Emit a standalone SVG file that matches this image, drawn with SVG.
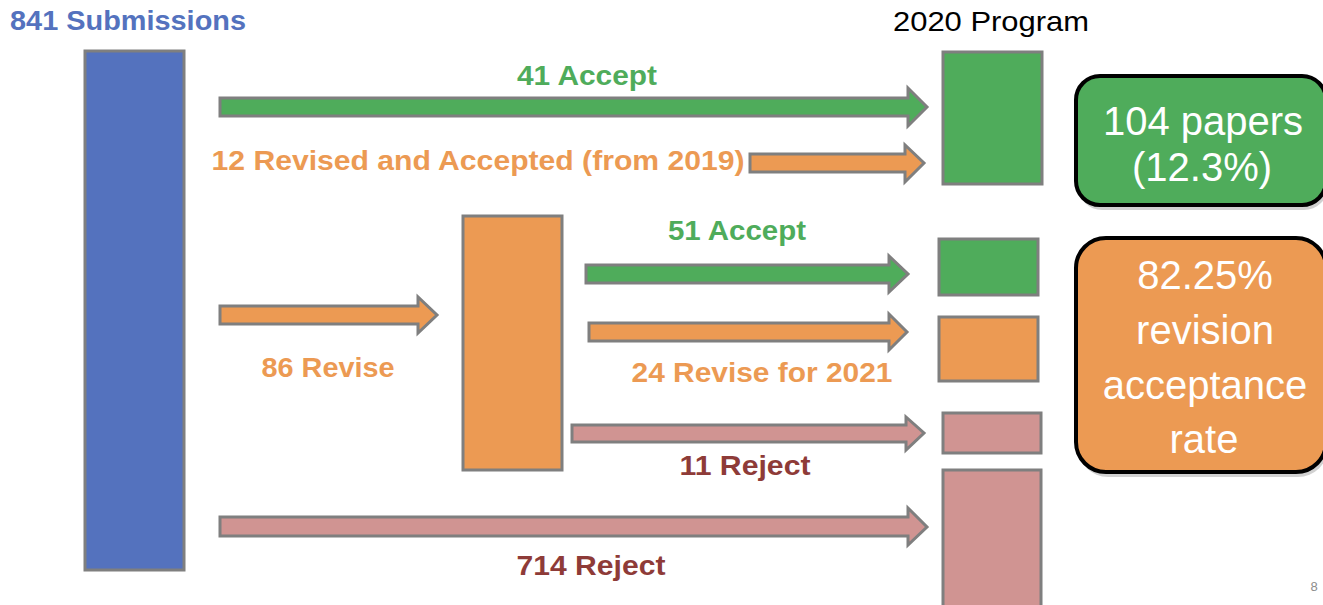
<svg xmlns="http://www.w3.org/2000/svg" width="1323" height="605" viewBox="0 0 1323 605">
<style>
.box{stroke:#7f7f7f;stroke-width:3}
.arr{stroke:#7f7f7f;stroke-width:3;stroke-linejoin:miter}
.blue{fill:#5472be}
.green{fill:#4fac5b}
.orange{fill:#ec9a53}
.pink{fill:#d09492}
.lbl{font-family:"Liberation Sans",Arial,sans-serif;font-weight:bold;font-size:28px;text-anchor:middle}
.tg{fill:#4fac5b}
.to{fill:#ec9a53}
.tr{fill:#8e3b38}
.tb{fill:#5472be}
.big{font-family:"Liberation Sans",Arial,sans-serif;font-size:40px;fill:#ffffff;text-anchor:middle}
.rbox{stroke:#000000;stroke-width:4}
.shadow{fill:#000000;opacity:0.18}
</style>
<rect width="1323" height="605" fill="#ffffff"/>
<g id="titles">
<text class="lbl tb" x="128" y="30" font-size="29" textLength="236" lengthAdjust="spacingAndGlyphs">841 Submissions</text>
<text x="991" y="31" font-family="Liberation Sans,Arial,sans-serif" font-size="28" fill="#000000" text-anchor="middle" textLength="196" lengthAdjust="spacingAndGlyphs">2020 Program</text>
</g>
<g id="submissions"><rect class="box blue" x="85" y="51" width="99" height="519"/></g>
<g id="revise-pool"><rect class="box orange" x="463" y="216" width="99" height="254"/></g>
<g id="program-accept"><rect class="box green" x="943" y="52" width="99" height="132"/></g>
<g id="program-revaccept"><rect class="box green" x="939" y="239" width="99" height="56"/></g>
<g id="program-revise2021"><rect class="box orange" x="939" y="317" width="99" height="64"/></g>
<g id="program-reject11"><rect class="box pink" x="943" y="413" width="98" height="40"/></g>
<g id="program-reject714"><rect class="box pink" x="943" y="470" width="98" height="140"/></g>
<g id="summary-papers">
<rect class="shadow" x="1078" y="80" width="250" height="130" rx="24"/>
<rect class="rbox green" x="1076" y="76" width="250" height="129" rx="24"/>
<text class="big" x="1203" y="135">104 papers</text>
<text class="big" x="1202" y="181">(12.3%)</text>
</g>
<g id="summary-rate">
<rect class="shadow" x="1078" y="242" width="250" height="235" rx="30"/>
<rect class="rbox orange" x="1076" y="238" width="250" height="234" rx="30"/>
<text class="big" x="1205" y="289">82.25%</text>
<text class="big" x="1205" y="344">revision</text>
<text class="big" x="1205" y="399">acceptance</text>
<text class="big" x="1204" y="453">rate</text>
</g>
<g id="connectors">
<path class="arr green" d="M220,98 H908 V88 L927,107 L908,126 V116 H220 Z"/>
<path class="arr orange" d="M750,154 H905 V145 L924,163 L905,182 V172 H750 Z"/>
<path class="arr green" d="M586,265 H889 V256 L908,274 L889,292 V283 H586 Z"/>
<path class="arr orange" d="M589,323 H889 V314 L907,332 L889,350 V341 H589 Z"/>
<path class="arr pink" d="M572,425 H906 V417 L924,433 L906,450 V442 H572 Z"/>
<path class="arr pink" d="M220,517 H908 V508 L927,527 L908,545 V536 H220 Z"/>
<path class="arr orange" d="M220,306 H418 V297 L437,315 L418,333 V324 H220 Z"/>
</g>
<g id="labels">
<text class="lbl tg" x="587" y="85" textLength="140" lengthAdjust="spacingAndGlyphs">41 Accept</text>
<text class="lbl to" x="478" y="170" textLength="533" lengthAdjust="spacingAndGlyphs">12 Revised and Accepted (from 2019)</text>
<text class="lbl tg" x="737" y="240" textLength="138" lengthAdjust="spacingAndGlyphs">51 Accept</text>
<text class="lbl to" x="328" y="377" textLength="133" lengthAdjust="spacingAndGlyphs">86 Revise</text>
<text class="lbl to" x="762" y="382" textLength="261" lengthAdjust="spacingAndGlyphs">24 Revise for 2021</text>
<text class="lbl tr" x="745" y="475" textLength="131" lengthAdjust="spacingAndGlyphs">11 Reject</text>
<text class="lbl tr" x="591" y="575" textLength="149" lengthAdjust="spacingAndGlyphs">714 Reject</text>
<text x="1314" y="591" font-family="Liberation Sans,Arial,sans-serif" font-size="13" fill="#8c8c8c" text-anchor="middle">8</text>
</g>
</svg>
